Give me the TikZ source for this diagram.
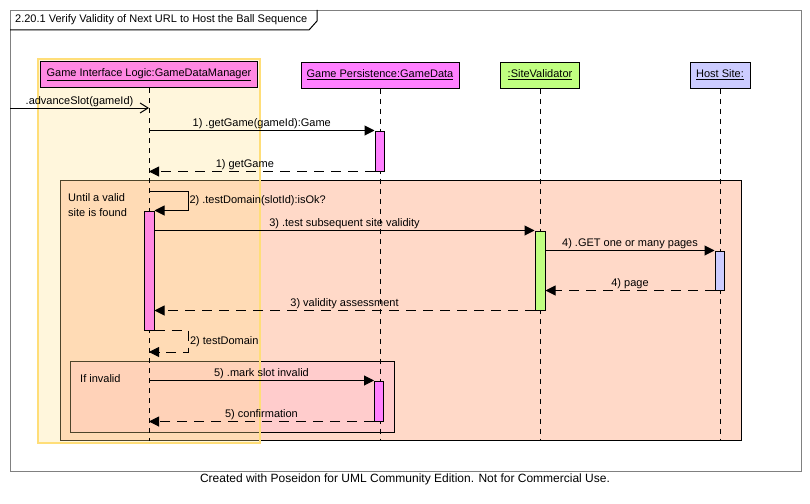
\documentclass[tikz,border=0pt]{standalone}
\usepackage{fontspec}
\setmainfont{Liberation Sans}
\usetikzlibrary{arrows.meta}
\definecolor{framegray}{RGB}{128,128,128}
\definecolor{gdmpink}{RGB}{255,136,226}
\definecolor{gdpink}{RGB}{255,128,255}
\definecolor{svgreen}{RGB}{192,255,128}
\definecolor{hsblue}{RGB}{204,204,255}
\definecolor{loopfill}{RGB}{255,217,200}
\definecolor{altfill}{RGB}{255,204,204}
\definecolor{hiyellow}{RGB}{255,226,140}
\definecolor{hiborder}{RGB}{255,222,120}
\begin{document}
\begin{tikzpicture}[x=1pt,y=-1pt,
  font=\fontsize{11}{13}\selectfont,
  head/.style={draw, line width=1pt, minimum height=26pt, inner sep=0pt},
  actbar/.style={draw, line width=1pt, minimum width=9pt, inner sep=0pt},
  lifeline/.style={dash pattern=on 5pt off 5pt, line width=1pt},
  msg/.style={-{Triangle[length=10pt,width=10pt]}, line width=1pt},
  ret/.style={msg, dash pattern=on 10pt off 7pt},
  lbl/.style={inner sep=1pt},
  fragment/.style={draw, line width=1pt, inner sep=0pt}
]
\useasboundingbox (0,0) rectangle (810,503);
\fill[white] (0,0) rectangle (810,503);

% outer frame and title
\node[draw=framegray, line width=1pt, minimum width=791pt, minimum height=461pt,
      inner sep=0pt, anchor=north west] (frame) at (10,10) {};
\draw[line width=1pt] (10,30) -- (309,30) -- (317,21) -- (317,10);
\node[lbl, anchor=west] (title) at (14,20) {2.20.1 Verify Validity of Next URL to Host the Ball Sequence};

% combined fragments
\node[fragment, fill=loopfill, minimum width=681pt, minimum height=260pt,
      anchor=north west] (loop) at (60,180) {};
\node[fragment, fill=altfill, minimum width=324pt, minimum height=71pt,
      anchor=north west] (alt) at (70,361) {};

% yellow highlight
\node[draw=hiborder, line width=2pt, fill=hiyellow, fill opacity=0.3,
      minimum width=222pt, minimum height=384pt, inner sep=0pt,
      anchor=north west] (hilite) at (37,58) {};

% fragment labels
\node[lbl, anchor=north west, align=left, font=\fontsize{11}{15}\selectfont] (looplbl) at (67,192) {Until a valid\\site is found};
\node[lbl, anchor=west] (altlbl) at (79,379) {If invalid};

% lifeline heads
\node[head, fill=gdmpink, minimum width=217pt] (gdm) at (149,74.5) {\underline{Game Interface Logic:GameDataManager}};
\node[head, fill=gdpink, minimum width=158pt] (gd) at (380,75) {\underline{Game Persistence:GameData}};
\node[head, fill=svgreen, minimum width=79pt] (sv) at (540,75) {\underline{:SiteValidator}};
\node[head, fill=hsblue, minimum width=60pt] (hs) at (720,75) {\underline{Host Site:}};

% lifelines
\draw[lifeline] (gdm.south) -- (gdm.south |- loop.south);
\draw[lifeline] (gd.south) -- (gd.south |- loop.south);
\draw[lifeline] (sv.south) -- (sv.south |- loop.south);
\draw[lifeline] (hs.south) -- (hs.south |- loop.south);

% activation bars
\node[actbar, fill=gdmpink, minimum width=10pt, minimum height=119pt] (a1) at (149,270.5) {};
\node[actbar, fill=gdpink, minimum height=40pt] (g1) at (379.5,151) {};
\node[actbar, fill=svgreen, minimum width=10pt, minimum height=79pt] (v1) at (540,270.5) {};
\node[actbar, fill=hsblue, minimum height=39pt] (h1) at (719.5,270.5) {};
\node[actbar, fill=gdpink, minimum height=40pt] (g2) at (379,401) {};

% found message
\coordinate (foundstart) at (10,108);
\draw[line width=1pt, -{Straight Barb[length=8pt,width=10pt]}]
  (foundstart) -- (gdm.south |- foundstart)
  node[lbl, above, pos=0.5] {.advanceSlot(gameId)};

% messages
\draw[msg] (gdm.south |- g1.north) -- (g1.north west)
  node[lbl, above, midway] {1) .getGame(gameId):Game};
\draw[ret] (g1.south west) -- (gdm.south |- g1.south)
  node[lbl, above, pos=0.575] {1) getGame};

\coordinate (self1) at (149,191);
\draw[msg] (self1) -- ++(39,0) |- (a1.north east)
  node[lbl, right, pos=0.25] {2) .testDomain(slotId):isOk?};

\draw[msg] (a1.east |- v1.north) -- (v1.north west)
  node[lbl, above, midway] {3) .test subsequent site validity};
\draw[msg] (v1.east |- h1.north) -- (h1.north west)
  node[lbl, above, midway] {4) .GET one or many pages};
\draw[ret] (h1.south west) -- (v1.east |- h1.south)
  node[lbl, above, midway] {4) page};
\draw[ret] (v1.south west) -- (a1.east |- v1.south)
  node[lbl, above, midway] {3) validity assessment};

\coordinate (self2) at (149,352);
\draw[ret] (a1.south east) -- ++(34,0) |- (self2)
  node[lbl, right, pos=0.25] {2) testDomain};

\draw[msg] (gdm.south |- g2.north) -- (g2.north west)
  node[lbl, above, midway] {5) .mark slot invalid};
\draw[ret] (g2.south west) -- (gdm.south |- g2.south)
  node[lbl, above, midway] {5) confirmation};

% footer
\node[lbl, font=\fontsize{12}{14}\selectfont] (footer) at (405,479) {Created with Poseidon for UML Community Edition. Not for Commercial Use.};
\end{tikzpicture}
\end{document}
